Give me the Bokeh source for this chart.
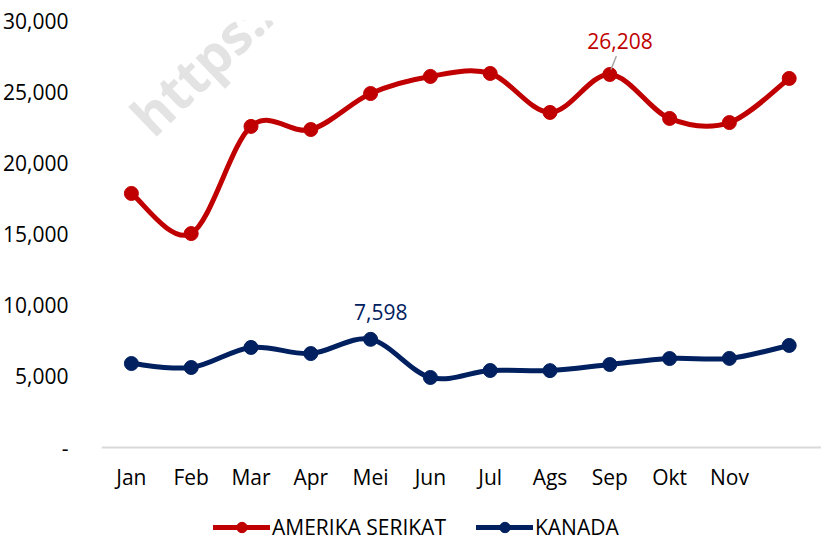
import numpy as np
from bokeh.plotting import figure
from bokeh.models import (FixedTicker, NumeralTickFormatter, Label, Legend, LegendItem,
                          ColumnDataSource, Range1d)
from bokeh.embed import file_html
from bokeh.resources import INLINE

# ---- data ----
months = ["Jan", "Feb", "Mar", "Apr", "Mei", "Jun", "Jul", "Ags", "Sep", "Okt", "Nov", ""]
amerika = [17850, 15030, 22560, 22340, 24870, 26070, 26280, 23540, 26208, 23120, 22830, 25930]
kanada = [5900, 5620, 7030, 6600, 7598, 4920, 5410, 5400, 5830, 6250, 6260, 7170]
y_ticks = [0, 5000, 10000, 15000, 20000, 25000, 30000]
series_names = ["AMERIKA SERIKAT", "KANADA"]

RED = "#C00000"
NAVY = "#002060"
FONT = "Open Sans"
FS = "21px"

Y_MAX = 30000
PLOT_PX = 427          # pixel height of the 0..30000 band
EXTRA_PX = 94          # room below the zero line for labels and legend
Y_MIN = -EXTRA_PX * Y_MAX / PLOT_PX


def bezier_source(ys):
    ys = np.asarray(ys, dtype=float)
    n = len(ys)
    xs = np.arange(n, dtype=float)
    xp = np.concatenate([[xs[0]], xs, [xs[-1]]])
    yp = np.concatenate([[ys[0]], ys, [ys[-1]]])
    i = np.arange(n - 1)
    x0, y0 = xp[i + 1], yp[i + 1]
    x1, y1 = xp[i + 2], yp[i + 2]
    cx0 = x0 + (xp[i + 2] - xp[i]) / 6.0
    cy0 = y0 + (yp[i + 2] - yp[i]) / 6.0
    cx1 = x1 - (xp[i + 3] - xp[i + 1]) / 6.0
    cy1 = y1 - (yp[i + 3] - yp[i + 1]) / 6.0
    return ColumnDataSource(dict(x0=x0, y0=y0, x1=x1, y1=y1, cx0=cx0, cy0=cy0, cx1=cx1, cy1=cy1))


p = figure(frame_width=720, frame_height=PLOT_PX + EXTRA_PX, output_backend="svg",
           toolbar_location=None,
           x_range=Range1d(-0.5, 11.54), y_range=Range1d(Y_MIN, Y_MAX),
           min_border_left=101, min_border_right=0, min_border_top=20, min_border_bottom=0)
p.outline_line_color = None
p.background_fill_color = "white"
p.border_fill_color = "white"
p.xgrid.grid_line_color = None
p.ygrid.grid_line_color = None

# watermark
wm = Label(x=0.13, y=22700, text="https://", angle=44, angle_units="deg",
           text_font=FONT, text_font_style="bold", text_font_size="54px",
           text_baseline="alphabetic", text_color="#e3e3e3", level="underlay")
p.add_layout(wm)

items = []
for vals, color, name in [(amerika, RED, series_names[0]), (kanada, NAVY, series_names[1])]:
    src = bezier_source(vals)
    b = p.bezier(x0="x0", y0="y0", x1="x1", y1="y1", cx0="cx0", cy0="cy0", cx1="cx1", cy1="cy1",
                 source=src, line_color=color, line_width=5, line_cap="round")
    s = p.scatter(x=list(range(len(vals))), y=vals, size=14, marker="circle",
                  fill_color=color, line_color=color)
    items.append(LegendItem(label=name, renderers=[b, s]))

# data labels
i_us = 8
p.segment(x0=[i_us + 0.02], y0=[amerika[i_us] + 350], x1=[i_us + 0.11], y1=[amerika[i_us] + 1300],
          line_color="#a6a6a6", line_width=1.5)
p.add_layout(Label(x=i_us + 0.17, y=amerika[i_us] + 2350, text=f"{amerika[i_us]:,}",
                   text_align="center", text_baseline="middle", text_font=FONT,
                   text_font_size=FS, text_color=RED))
i_ca = 4
p.add_layout(Label(x=i_ca + 0.17, y=kanada[i_ca] + 1950, text=f"{kanada[i_ca]:,}",
                   text_align="center", text_baseline="middle", text_font=FONT,
                   text_font_size=FS, text_color=NAVY))

# axes
p.xaxis.fixed_location = 0
p.xaxis.ticker = FixedTicker(ticks=list(range(len(months))))
p.xaxis.major_label_overrides = {i: m for i, m in enumerate(months)}
p.xaxis.axis_line_color = "#d9d9d9"
p.xaxis.axis_line_width = 2
p.xaxis.major_tick_line_color = None
p.xaxis.minor_tick_line_color = None
p.xaxis.major_label_standoff = 9
p.xaxis.major_label_text_font = FONT
p.xaxis.major_label_text_font_size = FS
p.xaxis.major_label_text_color = "black"

p.yaxis.ticker = FixedTicker(ticks=y_ticks)
p.yaxis.formatter = NumeralTickFormatter(format="0,0")
p.yaxis.major_label_overrides = {0: "-"}
p.yaxis.axis_line_color = None
p.yaxis.major_tick_line_color = None
p.yaxis.minor_tick_line_color = None
p.yaxis.major_label_standoff = 27
p.yaxis.major_label_text_font = FONT
p.yaxis.major_label_text_font_size = FS
p.yaxis.major_label_text_color = "black"

legend = Legend(items=items, orientation="horizontal", location=(112, 0),
                label_text_font=FONT, label_text_font_size=FS, label_text_color="black",
                glyph_width=57, glyph_height=26, spacing=30, label_standoff=2,
                border_line_color=None, background_fill_alpha=0, padding=0, margin=0)
p.add_layout(legend)

open("out.html", "w").write(file_html(p, INLINE))
